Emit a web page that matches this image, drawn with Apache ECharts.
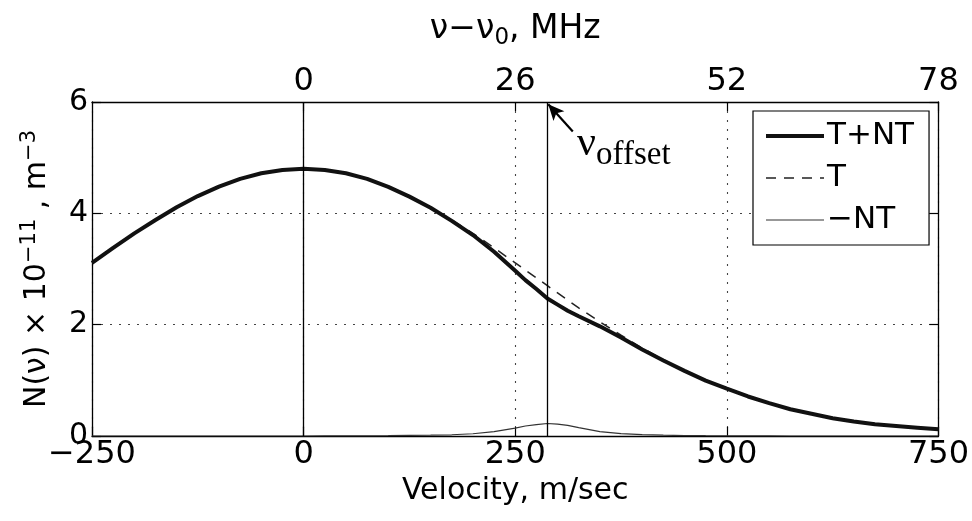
<!DOCTYPE html>
<html>
<head>
<meta charset="utf-8">
<script src="https://cdn.jsdelivr.net/npm/echarts@6/dist/echarts.min.js"></script>
<style>
html, body { margin: 0; padding: 0; background: #ffffff; }
#chart { width: 972px; height: 521px; }
</style>
</head>
<body>
<div id="chart"></div>
<script>
// ---- data ----
const velocity = [-250, -225, -200, -175, -150, -125, -100, -75, -50, -25, 0, 25, 50, 75, 100, 125, 150, 175, 200, 225, 250, 262, 275, 288, 300, 312, 325, 350, 375, 400, 425, 450, 475, 500, 525, 550, 575, 600, 625, 650, 675, 700, 725, 750];
const tPlusNT = [3.11, 3.38, 3.64, 3.88, 4.11, 4.31, 4.48, 4.62, 4.72, 4.78, 4.80, 4.78, 4.72, 4.62, 4.475, 4.30, 4.10, 3.865, 3.61, 3.31, 2.97, 2.80, 2.64, 2.47, 2.36, 2.25, 2.15, 1.97, 1.77, 1.555, 1.355, 1.17, 0.995, 0.85, 0.71, 0.59, 0.48, 0.40, 0.32, 0.26, 0.21, 0.18, 0.15, 0.12];
const tOnly = [3.11, 3.38, 3.64, 3.88, 4.11, 4.31, 4.48, 4.62, 4.72, 4.78, 4.80, 4.78, 4.72, 4.62, 4.48, 4.31, 4.11, 3.88, 3.64, 3.38, 3.11, 2.98, 2.84, 2.70, 2.57, 2.44, 2.30, 2.05, 1.81, 1.58, 1.37, 1.18, 1.00, 0.85, 0.71, 0.59, 0.48, 0.40, 0.32, 0.26, 0.21, 0.18, 0.15, 0.12];
const minusNT = [0, 0, 0, 0, 0, 0, 0, 0, 0, 0, 0, 0.001, 0.002, 0.004, 0.006, 0.01, 0.015, 0.022, 0.04, 0.08, 0.14, 0.18, 0.205, 0.225, 0.215, 0.19, 0.15, 0.08, 0.043, 0.025, 0.014, 0.008, 0.005, 0.003, 0.002, 0.001, 0, 0, 0, 0, 0, 0, 0, 0];
const velocityTicks = [-250, 0, 250, 500, 750];
const mhzTicks = [-26, 0, 26, 52, 78];
const densityTicks = [0, 2, 4, 6];
const zeroVelocity = 0;
const offsetVelocity = 288;
const seriesNames = ['T+NT', 'T', '\u2212NT'];
const arrowFrom = [318, 5.47];
const arrowTo = [289, 5.96];
const offsetLabelAt = [323, 5.24];

// ---- chart ----
const FONT = 'DejaVu Sans';
const pairs = (ys) => velocity.map((v, i) => [v, ys[i]]);
const chart = echarts.init(document.getElementById('chart'), null, { renderer: 'canvas' });

const axisLineStyle = { color: '#000', width: 1.3 };
const tickStyle = { show: true, inside: true, length: 9, lineStyle: { color: '#000', width: 1.2 } };
const gridLineStyle = { type: [2, 7], color: '#444', width: 1.1 };
const hiddenSymbol = { color: 'rgba(0,0,0,0)', opacity: 0, borderWidth: 0 };

chart.setOption({
  animation: false,
  backgroundColor: '#ffffff',
  grid: { left: 92, right: 33, top: 102, bottom: 85, containLabel: false },
  legend: {
    orient: 'vertical',
    left: 753,
    top: 111,
    padding: [4, 15, 4, 11],
    itemWidth: 58,
    itemHeight: 14,
    itemGap: 0,
    backgroundColor: '#ffffff',
    borderColor: '#000',
    borderWidth: 1.2,
    itemStyle: hiddenSymbol,
    textStyle: { color: '#000', fontFamily: FONT, fontSize: 31, lineHeight: 42, padding: [0, 0, 0, -2] },
    data: [
      { name: seriesNames[0], itemStyle: hiddenSymbol, lineStyle: { width: 4, color: '#111' } },
      { name: seriesNames[1], itemStyle: hiddenSymbol, lineStyle: { width: 1.5, color: '#222', type: [10, 8] } },
      { name: seriesNames[2], itemStyle: hiddenSymbol, lineStyle: { width: 1.2, color: '#333' } }
    ]
  },
  xAxis: [
    {
      type: 'value',
      position: 'bottom',
      min: velocityTicks[0],
      max: velocityTicks[velocityTicks.length - 1],
      interval: velocityTicks[1] - velocityTicks[0],
      axisLine: { show: true, onZero: false, lineStyle: axisLineStyle },
      axisTick: tickStyle,
      axisLabel: { color: '#000', fontFamily: FONT, fontSize: 32, margin: 3,
        formatter: (v) => String(v).replace('-', '\u2212') },
      splitLine: { show: true, lineStyle: gridLineStyle },
      name: 'Velocity, m/sec',
      nameLocation: 'middle',
      nameGap: 38,
      nameTextStyle: { color: '#000', fontFamily: FONT, fontSize: 30 }
    },
    {
      type: 'value',
      position: 'top',
      min: mhzTicks[0],
      max: mhzTicks[mhzTicks.length - 1],
      interval: mhzTicks[1] - mhzTicks[0],
      axisLine: { show: true, onZero: false, lineStyle: axisLineStyle },
      axisTick: tickStyle,
      axisLabel: { color: '#000', fontFamily: FONT, fontSize: 32, margin: 4, showMinLabel: false },
      splitLine: { show: false },
      name: '{t|\u03bd\u2212\u03bd}{sub|0}{t|, MHz}',
      nameLocation: 'middle',
      nameGap: 52,
      nameTextStyle: {
        color: '#000', fontFamily: FONT, fontSize: 33,
        rich: {
          t: { color: '#000', fontFamily: FONT, fontSize: 33 },
          sub: { color: '#000', fontFamily: FONT, fontSize: 23, padding: [18, 0, 0, 0] }
        }
      }
    }
  ],
  yAxis: [
    {
      type: 'value',
      position: 'left',
      min: densityTicks[0],
      max: densityTicks[densityTicks.length - 1],
      interval: densityTicks[1] - densityTicks[0],
      axisLine: { show: true, onZero: false, lineStyle: axisLineStyle },
      axisTick: tickStyle,
      axisLabel: { color: '#000', fontFamily: FONT, fontSize: 30, margin: 4 },
      splitLine: { show: true, lineStyle: gridLineStyle },
      name: '{t|N(\u03bd) \u00d7 10}{sup|\u221211}{t| , m}{sup|\u22123}',
      nameLocation: 'middle',
      nameRotate: 90,
      nameGap: 36,
      nameTextStyle: {
        color: '#000', fontFamily: FONT, fontSize: 30,
        rich: {
          t: { color: '#000', fontFamily: FONT, fontSize: 30 },
          sup: { color: '#000', fontFamily: FONT, fontSize: 21, padding: [0, 0, 16, 0] }
        }
      }
    },
    {
      type: 'value',
      position: 'right',
      min: densityTicks[0],
      max: densityTicks[densityTicks.length - 1],
      interval: densityTicks[1] - densityTicks[0],
      axisLine: { show: true, onZero: false, lineStyle: axisLineStyle },
      axisTick: tickStyle,
      axisLabel: { show: false },
      splitLine: { show: false }
    }
  ],
  series: [
    {
      name: seriesNames[2],
      type: 'line',
      symbol: 'none',
      data: pairs(minusNT),
      lineStyle: { color: '#333', width: 1.2 },
      itemStyle: { color: '#333' },
      z: 2,
      markLine: {
        silent: true,
        symbol: ['none', 'none'],
        label: { show: false },
        lineStyle: { color: '#000', width: 1.3, type: 'solid' },
        data: [{ xAxis: zeroVelocity }, { xAxis: offsetVelocity }]
      }
    },
    {
      name: seriesNames[1],
      type: 'line',
      symbol: 'none',
      data: pairs(tOnly),
      lineStyle: { color: '#222', width: 1.5, type: [10, 8] },
      itemStyle: { color: '#222' },
      z: 3,
      markLine: {
        silent: true,
        symbol: ['none', 'arrow'],
        symbolSize: [11, 16],
        label: { show: false },
        lineStyle: { color: '#000', width: 2.2, type: 'solid' },
        data: [[{ coord: arrowFrom }, { coord: arrowTo }]]
      },
      markPoint: {
        silent: true,
        symbol: 'circle',
        symbolSize: 0,
        data: [{
          coord: offsetLabelAt,
          label: {
            show: true,
            position: 'right',
            distance: 0,
            formatter: '{nu|\u03bd}{sub|offset}',
            rich: {
              nu: { color: '#000', fontFamily: 'Liberation Serif', fontSize: 42 },
              sub: { color: '#000', fontFamily: 'Liberation Serif', fontSize: 33, padding: [22, 0, 0, 0] }
            }
          }
        }]
      }
    },
    {
      name: seriesNames[0],
      type: 'line',
      symbol: 'none',
      data: pairs(tPlusNT),
      lineStyle: { color: '#111', width: 4 },
      itemStyle: { color: '#111' },
      z: 4
    }
  ]
});
</script>
</body>
</html>
